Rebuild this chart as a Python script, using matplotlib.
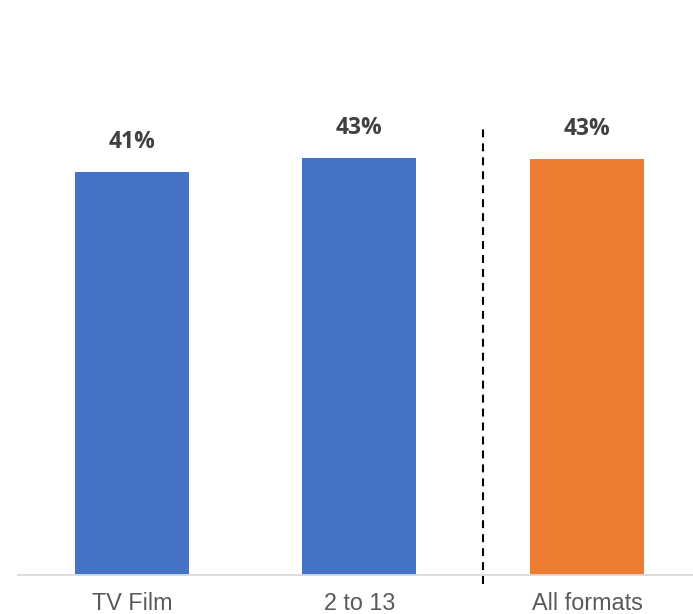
import matplotlib
matplotlib.use("Agg")
import matplotlib.pyplot as plt

categories = ["TV Film", "2 to 13", "All formats"]
values = [41.6, 43.0, 42.9]
value_labels = ["41%", "43%", "43%"]
colors = ["#4472C4", "#4472C4", "#ED7D31"]

W, H = 693, 614
fig = plt.figure(figsize=(W / 100, H / 100), dpi=100)
ax = fig.add_axes([18 / W, 1 - 575 / H, 1 - 18 / W, 575 / H])

x = list(range(len(categories)))
bars = ax.bar(x, values, width=0.5, color=colors, zorder=2)

ax.set_xlim(-0.5, 2.466)
ax.set_ylim(0, 59.3)

for xi, v, lab in zip(x, values, value_labels):
    ax.annotate(lab, (xi, v), xytext=(0, 13), textcoords="offset points",
                ha="center", va="bottom", fontsize=16.5, fontweight="bold",
                family="Open Sans", color="#404040")

for s in ["top", "right", "left"]:
    ax.spines[s].set_visible(False)
ax.spines["bottom"].set_color("#d9d9d9")
ax.spines["bottom"].set_linewidth(1.3)
ax.set_yticks([])
ax.set_xticks(x)
ax.set_xticklabels(categories, fontsize=16.8, color="#595959", family="Liberation Sans")
ax.tick_params(axis="x", length=0, pad=12.5)

ax.axvline(1.543, ymin=-0.016, ymax=(575 - 128) / 575, color="black",
           linewidth=1.5, linestyle=(0, (3.8, 2.9)), clip_on=False, zorder=3)

fig.savefig("out.png", dpi=100)
